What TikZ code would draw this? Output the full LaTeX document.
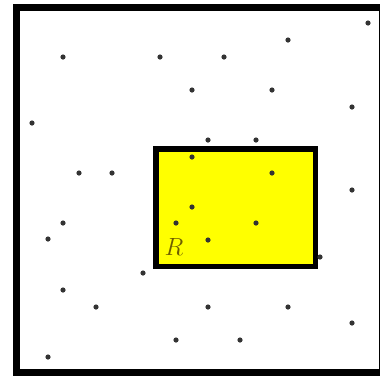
\documentclass[tikz,border=0pt]{standalone}
\usepackage{tikz}
\usetikzlibrary{positioning}
\definecolor{regionyellow}{HTML}{FFFF00}
\definecolor{labelolive}{HTML}{6E5E00}
\definecolor{pointgray}{HTML}{333333}

\begin{document}
\begin{tikzpicture}[x=1pt, y=-1pt,
    sample/.style={fill=pointgray},
    frame/.style={draw=black, line width=7pt},
    region/.style={draw=black, fill=regionyellow, line width=5.5pt}]
    \useasboundingbox (0,0) rectangle (380,376);
    \clip (0,0) rectangle (380,376);

    % Outer square
    \draw[frame] (16.5,7.5) rectangle (382.5,372.5);

    % Region R
    \draw[region] (155.75,148.75) rectangle (315.25,266.25);
    \node[font=\fontsize{29}{31}\selectfont, text=labelolive] (rlabel) at (174,247) {$R$};

    % Random sample points
    \foreach \px/\py in {63/57, 160/57, 224/57, 288/40, 368/23, 192/90, 272/90,
                         32/123, 352/107, 208/140, 256/140, 79/173, 112/173,
                         192/157, 272/173, 352/190, 63/223, 48/239, 176/223,
                         192/207, 256/223, 208/240, 320/257, 143/273, 63/290,
                         96/307, 208/307, 288/307, 352/323, 176/340, 240/340,
                         48/357}
        \fill[sample] (\px,\py) circle (2.6pt);

\end{tikzpicture}
\end{document}
